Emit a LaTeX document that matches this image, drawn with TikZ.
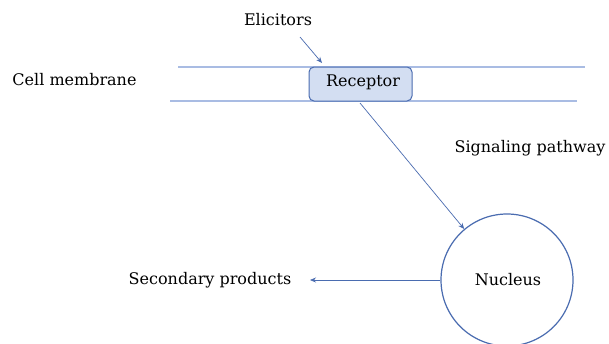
\documentclass[tikz,border=0pt]{standalone}
\usepackage{fontspec}
\setmainfont{DejaVu Serif}
\usetikzlibrary{arrows.meta}
\definecolor{memb}{HTML}{A9BCE3}
\definecolor{edge}{HTML}{4A6CB0}
\definecolor{recfill}{HTML}{D3DEF2}
\tikzset{
  lbl/.style={font=\fontsize{16}{19}\selectfont, inner sep=0pt, text=black},
  membline/.style={draw=memb, line width=1.2pt},
  conn/.style={draw=edge, line width=0.7pt, -{Stealth[length=6pt,width=5pt]}},
}
\begin{document}
\begin{tikzpicture}[x=1pt,y=-1pt]
\useasboundingbox (0,0) rectangle (609,343);
\clip (0,0) rectangle (609,343);
\fill[white] (0,0) rectangle (609,343);
\coordinate (m1a) at (178,67);
\coordinate (m1b) at (585,67);
\coordinate (m2a) at (170,101);
\coordinate (m2b) at (577,101);
\draw[membline] (m1a) -- (m1b);
\draw[membline] (m2a) -- (m2b);
\node[draw=edge, fill=recfill, line width=1pt, rounded corners=5pt, minimum width=103pt, minimum height=34pt] (rec) at (360.5,84) {};
\node[lbl] (rectext) at (363,82) {Receptor};
\node[lbl] (elic) at (278,20) {Elicitors};
\node[lbl] (cell) at (74.5,80) {Cell membrane};
\node[lbl] (sig) at (530,148) {Signaling pathway};
\node[draw=edge, line width=1.2pt, circle, minimum size=132pt, inner sep=0pt] (nuc) at (507,280) {};
\node[lbl] (nuctext) at (508,280) {Nucleus};
\node[lbl] (sec) at (210,280) {Secondary products};
\coordinate (e1) at (300,37);
\draw[conn] (e1) -- (322,63);
\draw[conn] (360,103) -- (nuc.130);
\draw[conn] (nuc.west) -- (310,280);
\end{tikzpicture}
\end{document}
